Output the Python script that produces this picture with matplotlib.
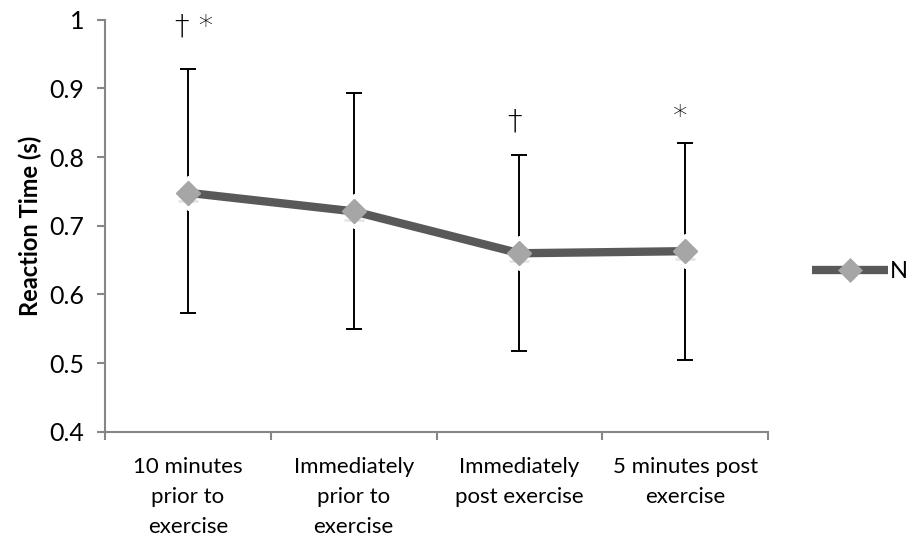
import numpy as np
import matplotlib.pyplot as plt

plt.rcParams['font.family'] = ['Lato', 'DejaVu Sans']

# data
phases = ['10 minutes\nprior to\nexercise', 'Immediately\nprior to\nexercise',
          'Immediately\npost exercise', '5 minutes post\nexercise']
reaction_time = [0.748, 0.721, 0.660, 0.663]
err_upper = [0.928, 0.893, 0.803, 0.820]
err_lower = [0.573, 0.550, 0.518, 0.505]
marks = ['† *', '', '†', '*']
mark_y = [0.990, 0.0, 0.852, 0.858]
yticks = [0.4, 0.5, 0.6, 0.7, 0.8, 0.9, 1.0]
ytick_labels = ['0.4', '0.5', '0.6', '0.7', '0.8', '0.9', '1']

fig = plt.figure(figsize=(9.07, 5.44), dpi=100)
ax = fig.add_axes([0.1158, 0.206, 0.731, 0.758])

x = np.arange(len(phases)) + 0.5
rt = np.array(reaction_time)
yerr = [rt - np.array(err_lower), np.array(err_upper) - rt]

ax.errorbar(x, rt, yerr=yerr, fmt='none', ecolor='black', elinewidth=1.4,
            capsize=6, capthick=1.4, zorder=1)
# white halo behind the markers, cuts the error bars like the original
ax.plot(x, rt, linestyle='none', marker='D', markersize=17, color='white',
        zorder=2)
ax.plot(x, rt - 0.012, linestyle='none', marker='_', markersize=14,
        markeredgewidth=2, color='#e6e6e6', zorder=2)
line, = ax.plot(x, rt, color='#595959', linewidth=6, marker='D',
                markersize=12, markerfacecolor='#a6a6a6',
                markeredgecolor='#a6a6a6', markeredgewidth=0.5,
                solid_capstyle='butt', zorder=3, label='N')
ax.plot(x, rt, linestyle='none', marker='D', markersize=12,
        color='#a6a6a6', zorder=4)

for xi, m, my in zip(x, marks, mark_y):
    if m:
        ax.text(xi + 0.04 * (len(m) > 1) - 0.03 * (len(m) == 1), my, m,
                ha='center', va='center', fontsize=21,
                family=['DejaVu Sans'], fontweight='light')

ax.set_xlim(0, 4)
ax.set_ylim(0.4, 1.0)
ax.set_yticks(yticks)
ax.set_yticklabels(ytick_labels)
ax.set_xticks(np.arange(5))
ax.set_xticklabels([])
ax.set_xticks(x, minor=True)
ax.set_xticklabels(phases, minor=True, linespacing=1.62)

for s in ['top', 'right']:
    ax.spines[s].set_visible(False)
for s in ['left', 'bottom']:
    ax.spines[s].set_color('#868686')
    ax.spines[s].set_linewidth(1.5)

ax.tick_params(axis='y', direction='out', length=6, width=1.5,
               color='#868686', labelsize=18, pad=9)
ax.tick_params(axis='x', which='major', direction='out', length=6,
               width=1.5, color='#868686')
ax.tick_params(axis='x', which='minor', length=0, labelsize=16, pad=18)

ax.set_ylabel('Reaction Time (s)', fontsize=17, fontweight='bold',
              labelpad=5)

fig.legend(handles=[line], loc='center left', bbox_to_anchor=(0.872, 0.5),
           frameon=False, fontsize=17, handlelength=3.2, handletextpad=0.1)

fig.savefig('out.png', dpi=100)
